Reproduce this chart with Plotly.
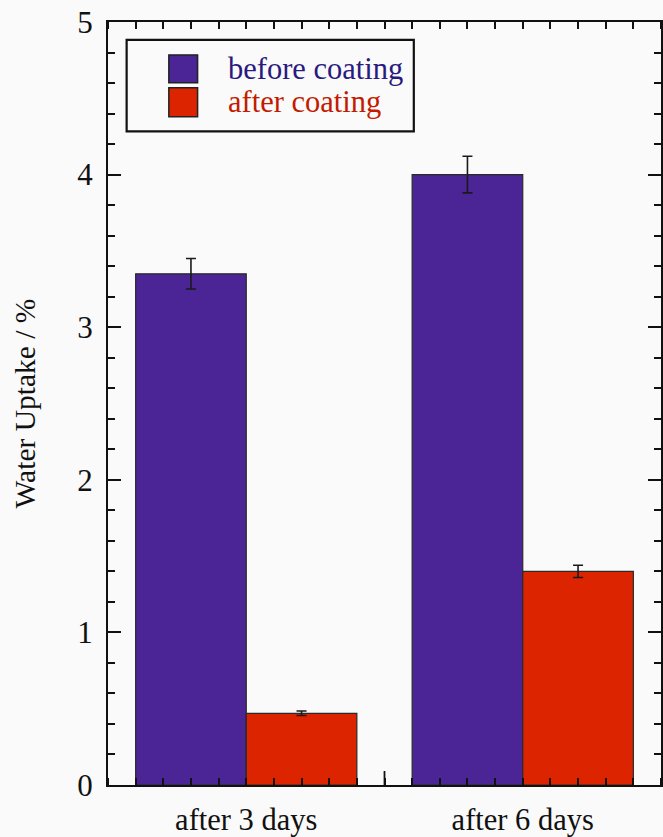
import plotly.graph_objects as go

categories = ["after 3 days", "after 6 days"]
series_names = ["before coating", "after coating"]
before_vals = [3.35, 4.00]
before_err = [0.10, 0.12]
after_vals = [0.47, 1.40]
after_err = [0.015, 0.04]
bar_colors = ["#4B2595", "#DD2400"]
text_colors = ["#2B1A7E", "#C41B00"]
y_ticks = [0, 1, 2, 3, 4, 5]

xpos = list(range(len(categories)))
font_family = "Liberation Serif, Times New Roman, serif"

fig = go.Figure()
for name, vals, errs, col in [
    (series_names[0], before_vals, before_err, bar_colors[0]),
    (series_names[1], after_vals, after_err, bar_colors[1]),
]:
    fig.add_trace(go.Bar(
        x=xpos, y=vals, name=name, showlegend=False,
        marker=dict(color=col, line=dict(color="#2a2a2a", width=1.2)),
        error_y=dict(type="data", array=errs, visible=True, color="#1a1a1a",
                     thickness=1.6, width=5),
    ))

# custom legend
box = dict(x0=0.0337, x1=0.553, y0=0.8566, y1=0.9765)
fig.add_shape(type="rect", xref="paper", yref="paper", **box,
              line=dict(color="#111111", width=2.2), fillcolor="rgba(0,0,0,0)")
sq_y = [(0.9203, 0.9569), (0.8758, 0.9137)]
for i, name in enumerate(series_names):
    fig.add_shape(type="rect", xref="paper", yref="paper",
                  x0=0.110, x1=0.162, y0=sq_y[i][0], y1=sq_y[i][1],
                  fillcolor=bar_colors[i], line=dict(color="#222222", width=1.5))
    fig.add_annotation(xref="paper", yref="paper", x=0.213,
                       y=(sq_y[i][0] + sq_y[i][1]) / 2, text=name,
                       showarrow=False, xanchor="left", yanchor="middle",
                       font=dict(family=font_family, size=30.5, color=text_colors[i]))

# major tick between groups
fig.add_shape(type="line", xref="x", yref="y", x0=0.5, x1=0.5,
              ysizemode="pixel", yanchor=0, y0=0, y1=14,
              line=dict(color="#111111", width=1.8))

fig.update_layout(
    width=663, height=837,
    margin=dict(l=108, r=0, t=22, b=50),
    paper_bgcolor="#FAFAFA", plot_bgcolor="#FAFAFA",
    barmode="group", bargap=0.2, bargroupgap=0,
    font=dict(family=font_family, color="#111111"),
)
fig.update_xaxes(
    range=[-0.5, 1.5], tickmode="array", tickvals=xpos, ticktext=categories,
    ticks="", showgrid=False, zeroline=False,
    showline=True, linecolor="#111111", linewidth=2, mirror="ticks",
    tickfont=dict(size=30.5, family=font_family, color="#111111"),
    ticklabelstandoff=6,
    minor=dict(tickmode="linear", tick0=0, dtick=0.1, ticks="inside", ticklen=7,
               tickwidth=1.5, tickcolor="#111111", showgrid=False),
)
fig.update_yaxes(
    range=[0, 5], tickmode="array", tickvals=y_ticks,
    ticks="inside", ticklen=13, tickwidth=1.5, tickcolor="#111111",
    showgrid=False, zeroline=False,
    showline=True, linecolor="#111111", linewidth=2, mirror="ticks",
    tickfont=dict(size=31, family=font_family, color="#111111"),
    ticklabelstandoff=7,
    title=dict(text="Water Uptake / %", font=dict(size=29.5, family=font_family, color="#111111"),
               standoff=33),
    minor=dict(tickmode="linear", tick0=0, dtick=0.2, ticks="inside", ticklen=7,
               tickwidth=1.5, tickcolor="#111111", showgrid=False),
)

fig.write_html("out.html")
